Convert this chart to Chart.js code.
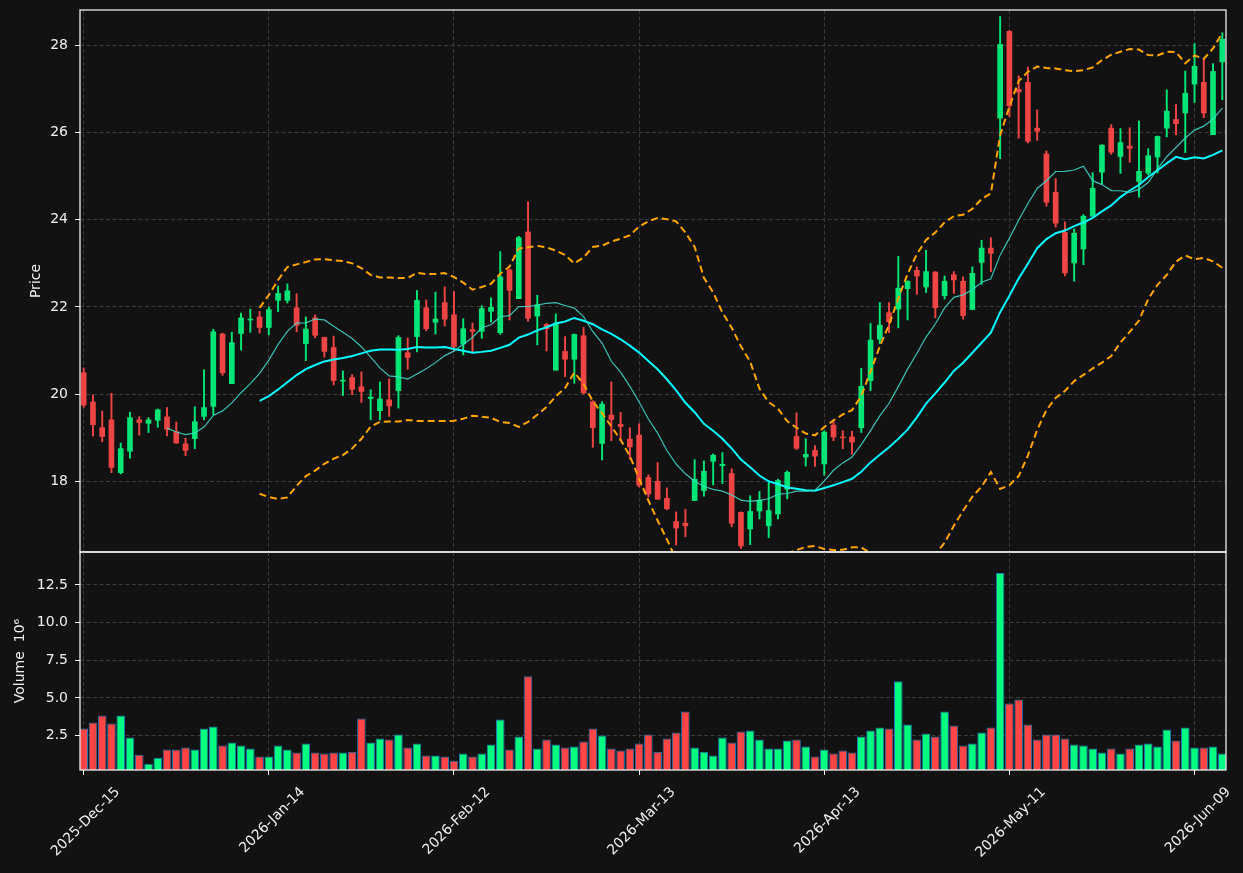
<!DOCTYPE html>
<html>
<head>
<meta charset="utf-8">
<title>Price / Volume</title>
<script src="https://cdn.jsdelivr.net/npm/chart.js@4.4.1/dist/chart.umd.min.js"></script>
<style>
  html, body { margin: 0; padding: 0; background: #121212; }
  #wrap { position: relative; width: 1243px; height: 873px; background: #121212; overflow: hidden; }
  #priceChart { position: absolute; left: 0; top: 0; }
  #volChart { position: absolute; left: 0; top: 548px; }
</style>
</head>
<body>
<div id="wrap">
  <canvas id="priceChart" width="1243" height="560"></canvas>
  <canvas id="volChart" width="1243" height="325"></canvas>
</div>
<script>
// daily bars (index 0 = 2025-Dec-15)
const opens = [20.49, 19.82, 19.23, 19.41, 18.20, 18.69, 19.41, 19.33, 19.40, 19.48,
  19.14, 18.86, 18.98, 19.49, 19.72, 21.38, 20.24, 21.39, 21.70, 21.77,
  21.53, 22.15, 22.15, 21.98, 21.16, 21.75, 21.30, 21.07, 20.30, 20.38,
  20.17, 19.90, 19.62, 19.87, 20.08, 20.95, 21.32, 21.98, 21.65, 22.10,
  21.82, 21.15, 21.48, 21.44, 21.90, 21.41, 22.85, 22.19, 23.72, 21.79,
  21.60, 20.55, 20.98, 20.80, 21.34, 19.83, 18.87, 19.52, 19.31, 18.97,
  19.06, 18.09, 18.00, 17.61, 17.08, 17.04, 17.56, 17.79, 18.46, 18.36,
  18.18, 17.29, 16.91, 17.32, 16.98, 17.25, 17.82, 19.03, 18.56, 18.71,
  18.40, 19.29, 19.02, 19.02, 19.23, 20.31, 21.26, 21.87, 21.95, 22.42,
  22.84, 22.46, 22.80, 22.26, 22.74, 22.59, 21.94, 23.02, 23.35, 26.33,
  28.32, 26.99, 27.15, 26.10, 25.51, 24.63, 23.71, 23.01, 23.33, 24.08,
  25.09, 26.10, 25.45, 25.69, 24.88, 25.07, 25.44, 26.10, 26.30, 26.45,
  27.11, 27.15, 25.95, 27.62];
const highs = [20.60, 19.98, 19.61, 20.02, 18.88, 19.59, 19.48, 19.46, 19.66, 19.69,
  19.36, 18.99, 19.71, 20.56, 21.49, 21.40, 21.42, 21.86, 21.95, 21.90,
  22.00, 22.48, 22.53, 22.30, 21.77, 21.82, 21.31, 21.33, 20.53, 20.45,
  20.51, 20.10, 20.28, 20.35, 21.34, 21.29, 22.38, 22.16, 22.34, 22.46,
  22.35, 21.73, 21.63, 22.03, 22.21, 23.27, 22.87, 23.62, 24.41, 22.27,
  21.62, 21.84, 21.32, 21.38, 21.53, 19.85, 19.83, 20.28, 19.58, 19.23,
  19.32, 18.15, 18.43, 17.85, 17.30, 17.36, 18.50, 18.47, 18.63, 18.66,
  18.29, 17.30, 17.67, 17.77, 18.02, 18.05, 18.24, 19.57, 18.98, 18.82,
  19.16, 19.37, 19.16, 19.15, 20.59, 21.62, 22.10, 22.10, 23.16, 22.60,
  22.92, 23.30, 22.81, 22.71, 22.81, 22.69, 22.92, 23.53, 23.59, 28.66,
  28.34, 27.30, 27.50, 26.52, 25.58, 24.94, 23.95, 23.79, 24.12, 25.08,
  25.72, 26.18, 26.09, 26.11, 26.26, 25.63, 25.92, 26.98, 26.64, 27.41,
  28.04, 27.69, 27.58, 28.29];
const lows = [19.70, 19.04, 18.91, 18.20, 18.17, 18.53, 19.06, 19.12, 19.24, 19.04,
  18.87, 18.59, 18.75, 19.41, 19.53, 20.43, 20.24, 21.01, 21.42, 21.40,
  21.36, 21.89, 22.09, 21.43, 20.77, 21.29, 20.85, 20.21, 19.97, 19.99,
  19.81, 19.41, 19.41, 19.49, 19.68, 20.57, 20.97, 21.45, 21.38, 21.56,
  21.00, 20.90, 20.97, 21.28, 21.65, 21.37, 21.70, 22.19, 21.67, 21.13,
  20.99, 20.55, 20.40, 20.25, 20.00, 18.78, 18.49, 18.93, 18.93, 18.51,
  17.87, 17.64, 17.59, 17.35, 16.54, 16.73, 17.56, 17.66, 17.92, 17.95,
  16.96, 16.46, 16.55, 17.14, 16.71, 17.14, 17.60, 18.73, 18.35, 18.34,
  18.14, 18.93, 18.75, 18.62, 19.12, 20.08, 21.16, 21.41, 21.52, 21.70,
  22.29, 22.33, 21.75, 22.18, 22.31, 21.72, 21.94, 22.52, 22.81, 25.40,
  26.36, 25.87, 25.76, 25.82, 24.31, 23.83, 22.71, 22.59, 22.97, 24.08,
  24.82, 25.50, 25.06, 25.32, 24.52, 25.03, 25.07, 25.90, 25.95, 25.54,
  26.69, 26.34, 25.95, 26.75];
const closes = [19.75, 19.30, 19.03, 18.32, 18.75, 19.46, 19.35, 19.41, 19.64, 19.19,
  18.88, 18.71, 19.37, 19.69, 21.43, 20.49, 21.18, 21.75, 21.72, 21.53,
  21.94, 22.31, 22.37, 21.58, 21.49, 21.35, 20.98, 20.31, 20.32, 20.11,
  20.06, 19.93, 19.89, 19.73, 21.30, 20.84, 22.15, 21.50, 21.72, 21.72,
  21.09, 21.50, 21.44, 21.96, 21.99, 22.69, 22.38, 23.59, 21.74, 22.05,
  21.50, 21.63, 20.80, 21.37, 20.03, 19.23, 19.77, 19.42, 19.26, 18.79,
  17.91, 17.71, 17.59, 17.37, 16.93, 16.98, 18.05, 18.23, 18.60, 18.39,
  17.04, 16.52, 17.31, 17.57, 17.33, 18.02, 18.21, 18.76, 18.62, 18.58,
  19.13, 19.02, 19.00, 18.90, 20.18, 21.24, 21.58, 21.66, 22.43, 22.59,
  22.71, 22.81, 21.98, 22.59, 22.62, 21.80, 22.77, 23.35, 23.23, 28.02,
  26.61, 26.93, 25.80, 26.03, 24.40, 23.92, 22.78, 23.69, 24.08, 24.72,
  25.71, 25.55, 25.77, 25.64, 25.11, 25.47, 25.91, 26.49, 26.20, 26.90,
  27.52, 26.45, 27.40, 28.14];
// volume in millions
const volumes = [2.97, 3.37, 3.83, 3.30, 3.83, 2.37, 1.23, 0.63, 1.03, 1.57,
  1.57, 1.70, 1.57, 2.97, 3.10, 1.83, 2.03, 1.83, 1.63, 1.10,
  1.10, 1.83, 1.57, 1.37, 1.97, 1.37, 1.30, 1.37, 1.37, 1.43,
  3.63, 2.03, 2.30, 2.23, 2.57, 1.70, 1.97, 1.17, 1.17, 1.10,
  0.83, 1.30, 1.10, 1.30, 1.90, 3.57, 1.57, 2.43, 6.43, 1.63,
  2.23, 1.90, 1.70, 1.77, 2.10, 2.97, 2.50, 1.63, 1.50, 1.63,
  1.97, 2.57, 1.43, 2.30, 2.70, 4.10, 1.70, 1.43, 1.17, 2.37,
  2.03, 2.77, 2.83, 2.23, 1.63, 1.63, 2.17, 2.23, 1.77, 1.10,
  1.57, 1.30, 1.50, 1.37, 2.43, 2.83, 3.03, 2.97, 6.10, 3.23,
  2.23, 2.63, 2.43, 4.10, 3.17, 1.83, 1.97, 2.70, 3.03, 13.30,
  4.63, 4.90, 3.23, 2.23, 2.57, 2.57, 2.30, 1.90, 1.83, 1.63,
  1.37, 1.63, 1.30, 1.63, 1.90, 1.97, 1.77, 2.90, 2.17, 3.03,
  1.70, 1.70, 1.77, 1.30];

const tickPos = [0, 20, 40, 60, 80, 100, 120];
const tickLabels = ['2025-Dec-15', '2026-Jan-14', '2026-Feb-12', '2026-Mar-13', '2026-Apr-13', '2026-May-11', '2026-Jun-09'];
const priceTicks = [18, 20, 22, 24, 26, 28];
const volTicks = [2.5, 5.0, 7.5, 10.0, 12.5];

const TXT = '#f0f0f0';
const GRID = '#3a3a3a';
const UP = '#00e676', DOWN = '#ef4444';
const VOL_UP = '#00ff80', VOL_DOWN = '#ff4545';
const FONT = { family: 'DejaVu Sans', size: 14 };
const X_MIN = -0.4, X_MAX = 123.4;

// moving average and bollinger bands from the closes
function rolling(vals, n) {
  const mean = [], sd = [];
  for (let i = 0; i < vals.length; i++) {
    if (i < n - 1) { mean.push(null); sd.push(null); continue; }
    const win = vals.slice(i - n + 1, i + 1);
    const m = win.reduce((a, b) => a + b, 0) / n;
    const v = win.reduce((a, b) => a + (b - m) * (b - m), 0) / n;
    mean.push(m); sd.push(Math.sqrt(v));
  }
  return { mean, sd };
}
const r10 = rolling(closes, 10);
const r20 = rolling(closes, 20);
const bbUp = r20.mean.map((m, i) => m == null ? null : m + 2 * r20.sd[i]);
const bbLo = r20.mean.map((m, i) => m == null ? null : m - 2 * r20.sd[i]);

const idx = closes.map((c, i) => i);
const isUp = idx.map(i => closes[i] >= opens[i]);
const pts = arr => idx.filter(i => arr[i] != null).map(i => ({ x: i, y: arr[i] }));

const frame = {
  id: 'frame',
  afterDraw(chart) {
    const { ctx, chartArea: a } = chart;
    ctx.save();
    ctx.strokeStyle = '#ffffff';
    ctx.lineWidth = 1.2;
    ctx.strokeRect(a.left, a.top, a.right - a.left, a.bottom - a.top);
    ctx.restore();
  }
};

const xTicks = s => { s.ticks = tickPos.map(v => ({ value: v })); };
const noPad = s => { s.paddingTop = 0; s.paddingBottom = 0; s.paddingLeft = 0; s.paddingRight = 0; };

new Chart(document.getElementById('priceChart'), {
  type: 'bar',
  data: {
    datasets: [
      { type: 'line', data: pts(r10.mean), borderColor: 'rgba(64,224,208,0.85)', borderWidth: 1.2, pointRadius: 0, order: 1 },
      { type: 'line', data: pts(r20.mean), borderColor: '#00ffff', borderWidth: 2, pointRadius: 0, order: 1 },
      { type: 'line', data: pts(bbUp), borderColor: '#ffa500', borderWidth: 2, borderDash: [7, 4], pointRadius: 0, order: 1 },
      { type: 'line', data: pts(bbLo), borderColor: '#ffa500', borderWidth: 2, borderDash: [7, 4], pointRadius: 0, order: 1 },
      { data: idx.map(i => ({ x: i, y: [opens[i], closes[i]] })), backgroundColor: idx.map(i => isUp[i] ? UP : DOWN),
        barThickness: 5, grouped: false, order: 2 },
      { data: idx.map(i => ({ x: i, y: [lows[i], highs[i]] })), backgroundColor: idx.map(i => isUp[i] ? UP : DOWN),
        barThickness: 1.3, grouped: false, order: 3 }
    ]
  },
  options: {
    responsive: false,
    animation: false,
    devicePixelRatio: 1,
    layout: { padding: { left: 0, right: 17, top: 10, bottom: 8 } },
    plugins: { legend: { display: false }, tooltip: { enabled: false } },
    scales: {
      x: {
        type: 'linear', min: X_MIN, max: X_MAX, offset: false,
        afterBuildTicks: xTicks,
        afterFit: s => { s.height = 0; noPad(s); },
        ticks: { display: false },
        grid: { color: GRID, drawTicks: false, offset: false },
        border: { display: false, dash: [4, 2.5] }
      },
      y: {
        min: 16.38, max: 28.81,
        afterBuildTicks: s => { s.ticks = priceTicks.map(v => ({ value: v })); },
        afterFit: s => { s.width = 80; noPad(s); },
        ticks: { color: TXT, font: FONT, padding: 7 },
        grid: { color: GRID, tickColor: '#ffffff', tickLength: 5 },
        border: { display: false, dash: [4, 2.5] },
        title: { display: true, text: 'Price', color: TXT, font: FONT, padding: { top: 28, bottom: 0 } }
      }
    }
  },
  plugins: [frame]
});

new Chart(document.getElementById('volChart'), {
  type: 'bar',
  data: {
    datasets: [
      { data: idx.map(i => ({ x: i, y: volumes[i] })), backgroundColor: idx.map(i => isUp[i] ? VOL_UP : VOL_DOWN),
        borderColor: '#1f77b4', borderWidth: 1, borderSkipped: false,
        barPercentage: 0.93, categoryPercentage: 1.0 }
    ]
  },
  options: {
    responsive: false,
    animation: false,
    devicePixelRatio: 1,
    layout: { padding: { left: 0, right: 17, top: 4, bottom: 0 } },
    plugins: { legend: { display: false }, tooltip: { enabled: false } },
    scales: {
      x: {
        type: 'linear', min: X_MIN, max: X_MAX, offset: false,
        afterBuildTicks: xTicks,
        afterFit: s => { s.height = 103; noPad(s); },
        ticks: {
          color: TXT, font: FONT, autoSkip: false, maxRotation: 45, minRotation: 45,
          labelOffset: 34, padding: 9,
          callback: v => tickLabels[tickPos.indexOf(v)]
        },
        grid: { color: GRID, tickColor: '#ffffff', tickLength: 5, offset: false },
        border: { display: false, dash: [4, 2.5] }
      },
      y: {
        min: 0.21, max: 14.69,
        afterBuildTicks: s => { s.ticks = volTicks.map(v => ({ value: v })); },
        afterFit: s => { s.width = 80; noPad(s); },
        ticks: { color: TXT, font: FONT, padding: 7, callback: v => v.toFixed(1) },
        grid: { color: GRID, tickColor: '#ffffff', tickLength: 5 },
        border: { display: false, dash: [4, 2.5] },
        title: { display: true, text: 'Volume  10\u2076', color: TXT, font: FONT, padding: { top: 12, bottom: 0 } }
      }
    }
  },
  plugins: [frame]
});
</script>
</body>
</html>
